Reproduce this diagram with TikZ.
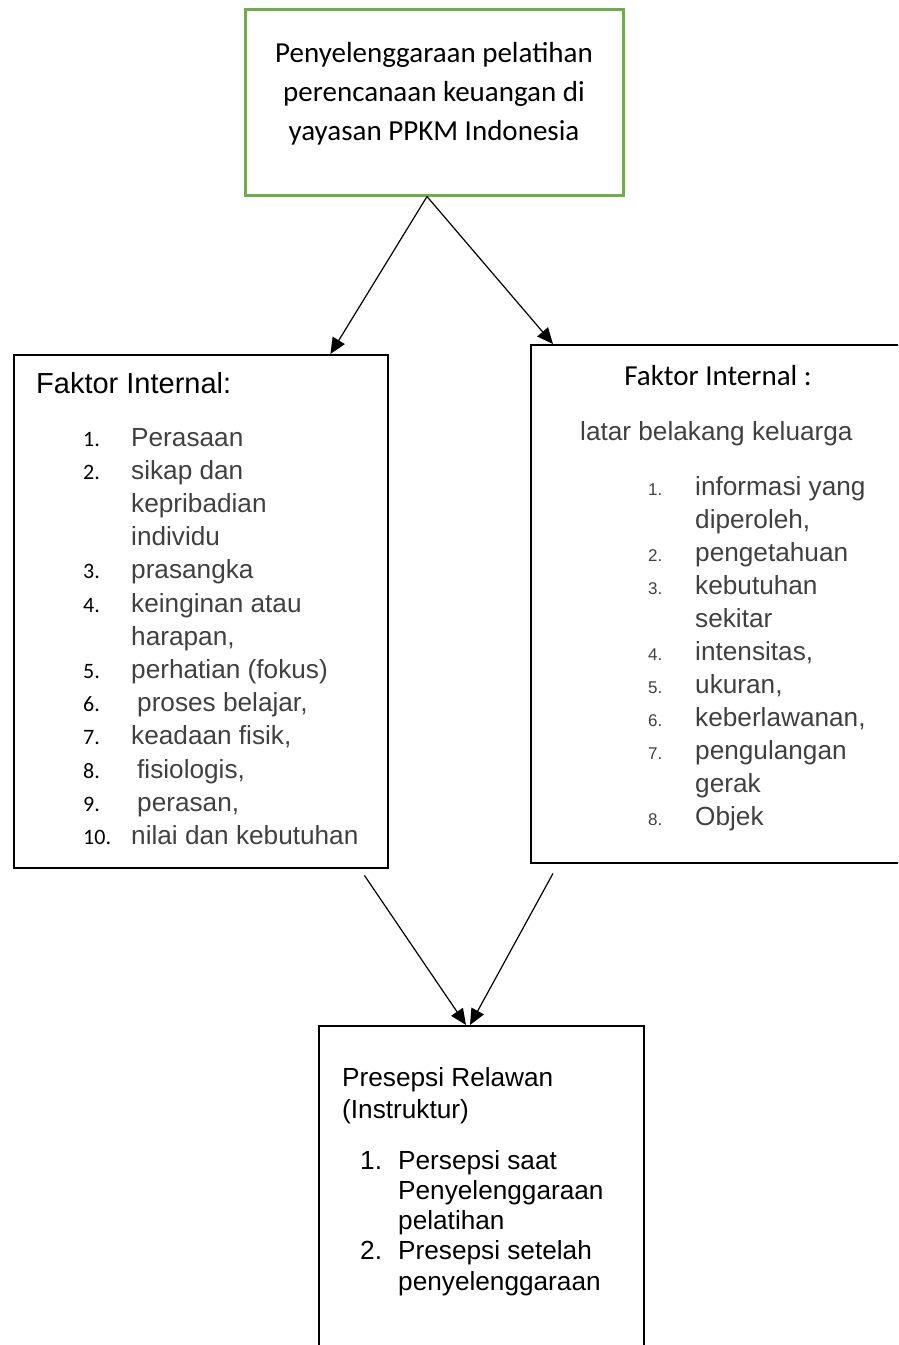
\documentclass[tikz,border=0pt]{standalone}
\usepackage{fontspec}
\usepackage{array}
\setmainfont{Liberation Sans}
\newfontfamily\calibri{Carlito}
\usetikzlibrary{arrows.meta,positioning}
\definecolor{boxgreen}{HTML}{70AD47}
\definecolor{txtgray}{HTML}{404040}
\newcommand\setfs[2]{\fontsize{#1}{#2}\selectfont}

\begin{document}
\begin{tikzpicture}
[x=1pt, y=-1pt,
greenbox/.style={draw=boxgreen, line width=3pt, inner sep=0pt},
blackbox/.style={draw=black, line width=2.4pt, inner sep=0pt, anchor=north west},
plain/.style={inner sep=0pt},
link/.style={line width=1.2pt, -{Triangle[length=16pt, width=14pt]}}]
\useasboundingbox (0,0) rectangle (898,1345);
\clip (0,0) rectangle (898,1345);
% boxes
\node[greenbox, minimum width=378, minimum height=186] (pelatihan) at (434,102) {};
\node[blackbox, minimum width=374, minimum height=513] (kiri) at (13,354) {};
\node[blackbox, minimum width=385, minimum height=518] (kanan) at (530,344) {};
\node[blackbox, minimum width=325, minimum height=345] (hasil) at (318,1025) {};
% top text
\node[plain, anchor=base] (judul) at (434,62)
  {\calibri\setfs{29}{39}\begin{tabular}[t]{@{}c@{}}Penyelenggaraan pelatihan\\perencanaan keuangan di\\yayasan PPKM Indonesia\end{tabular}};
% left box
\node[plain, anchor=base west] (kiriJudul) at (36,393) {\setfs{29}{33}Faktor Internal:};
\node[plain, anchor=base west] (kiriDaftar) at (83,446)
  {\setfs{26.2}{33.2}\begin{tabular}[t]{@{}>{\calibri\setfs{22}{33.2}}p{48pt}@{}>{\color{txtgray}}l@{}}
  1. & Perasaan\\
  2. & sikap dan\\
     & kepribadian\\
     & individu\\
  3. & prasangka\\
  4. & keinginan atau\\
     & harapan,\\
  5. & perhatian (fokus)\\
  6. & \hspace{6pt}proses belajar,\\
  7. & keadaan fisik,\\
  8. & \hspace{6pt}fisiologis,\\
  9. & \hspace{6pt}perasan,\\
  10. & nilai dan kebutuhan
  \end{tabular}};
% right box
\node[plain, anchor=base] (kananJudul) at (718,385) {\calibri\setfs{29}{33}Faktor Internal :};
\node[plain, anchor=base west, text=txtgray] (kananSub) at (580,440) {\setfs{26.2}{33}latar belakang keluarga};
\node[plain, anchor=base west, text=txtgray] (kananDaftar) at (648,495)
  {\setfs{26.2}{33}\begin{tabular}[t]{@{}>{\setfs{17}{33}}p{47pt}@{}l@{}}
  1. & informasi yang\\
     & diperoleh,\\
  2. & pengetahuan\\
  3. & kebutuhan\\
     & sekitar\\
  4. & intensitas,\\
  5. & ukuran,\\
  6. & keberlawanan,\\
  7. & pengulangan\\
     & gerak\\
  8. & Objek
  \end{tabular}};
% bottom box
\node[plain, anchor=base west] (hasilJudul) at (342,1086)
  {\setfs{26.2}{32}\begin{tabular}[t]{@{}l@{}}Presepsi Relawan\\(Instruktur)\end{tabular}};
\node[plain, anchor=base west] (hasilDaftar) at (360,1169)
  {\setfs{26.2}{30.3}\begin{tabular}[t]{@{}p{38pt}@{}l@{}}
  1. & Persepsi saat\\
     & Penyelenggaraan\\
     & pelatihan\\
  2. & Presepsi setelah\\
     & penyelenggaraan
  \end{tabular}};
% connector ends
\coordinate (cabang) at ([xshift=-7pt]pelatihan.south);
\coordinate (kiriMasuk) at ([xshift=-59pt]kiri.north east);
\coordinate (kananMasuk) at ([xshift=23pt]kanan.north west);
\coordinate (kiriKeluar) at ([xshift=-25pt,yshift=-6pt]kiri.south east);
\coordinate (kananKeluar) at ([xshift=23pt,yshift=-9pt]kanan.south west);
\coordinate (hasilMasukA) at ([xshift=148pt]hasil.north west);
\coordinate (hasilMasukB) at ([xshift=152pt]hasil.north west);
\draw[link] (cabang) -- (kiriMasuk);
\draw[link] (cabang) -- (kananMasuk);
\draw[link] (kiriKeluar) -- (hasilMasukA);
\draw[link] (kananKeluar) -- (hasilMasukB);
\end{tikzpicture}
\end{document}
